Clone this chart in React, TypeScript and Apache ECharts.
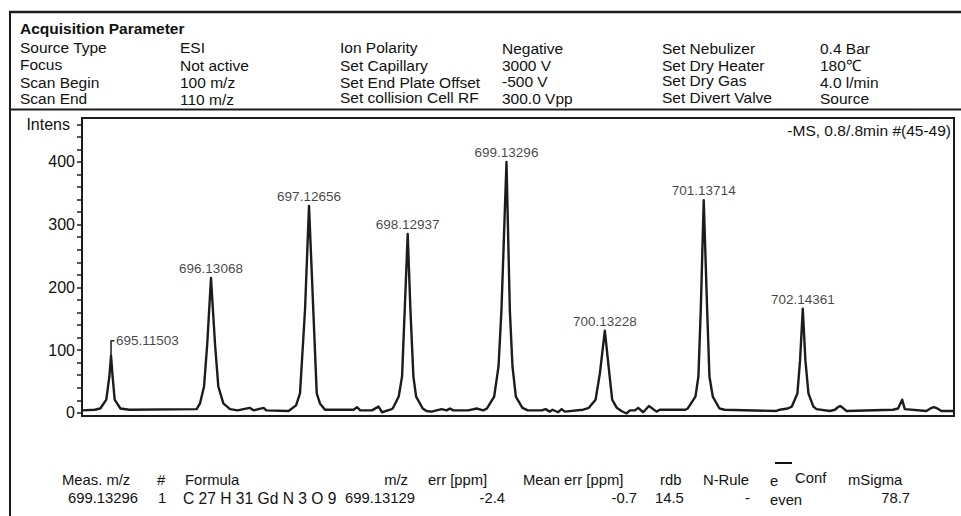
import React, { useEffect, useRef } from "react";
import * as echarts from "echarts";

// ---------- data ----------
const profileMz = [
  694.82, 694.95, 695.006, 695.067, 695.098, 695.11503, 695.131, 695.152, 695.21, 695.3,
  695.985, 696.019, 696.06, 696.093, 696.13068, 696.171, 696.205, 696.256, 696.324, 696.4,
  696.523, 696.563, 696.665, 696.692, 696.919, 696.995, 697.035, 697.086, 697.12656, 697.17,
  697.205, 697.238, 697.289, 697.579, 697.614, 697.647, 697.766, 697.833, 697.868, 697.952,
  697.977, 698.038, 698.072, 698.099, 698.12937, 698.157, 698.187, 698.215, 698.282, 698.32,
  698.372, 698.474, 698.525, 698.558, 698.592, 698.744, 698.83, 698.897, 698.935, 699.008,
  699.052, 699.082, 699.13296, 699.167, 699.194, 699.228, 699.295, 699.35, 699.49, 699.53,
  699.574, 699.6, 699.658, 699.693, 699.727, 699.912, 699.97, 700.038, 700.082, 700.13228,
  700.178, 700.207, 700.254, 700.3, 700.353, 700.387, 700.438, 700.471, 700.522, 700.58,
  700.658, 700.691, 700.95, 700.975, 701.053, 701.083, 701.107, 701.13714, 701.172, 701.195,
  701.229, 701.297, 701.35, 701.877, 701.91, 701.99, 702.032, 702.089, 702.116, 702.14361,
  702.17, 702.201, 702.251, 702.283, 702.418, 702.47, 702.5, 702.523, 702.55, 702.588,
  703.061, 703.112, 703.153, 703.18, 703.4, 703.44, 703.475, 703.51, 703.552, 703.68,
];
const profileIntensity = [
  4, 5, 7, 21, 58, 91, 58, 21, 7, 5,
  6, 15, 42, 111, 215, 111, 42, 15, 6, 4,
  8, 4, 8, 4, 3, 12, 31, 164, 330, 164,
  31, 15, 5, 5, 9, 4, 4, 10, 1, 5,
  7, 26, 58, 164, 285, 164, 58, 26, 7, 3,
  2, 6, 4, 7, 4, 4, 7, 4, 7, 26,
  74, 164, 400, 164, 74, 26, 8, 4, 4, 6,
  2, 5, 1, 6, 2, 5, 8, 21, 63, 131,
  63, 21, 8, 3, -1, 4, 4, 8, 1, 11,
  2, 5, 5, 7, 26, 58, 164, 339, 164, 58,
  26, 7, 5, 3, 5, 7, 10, 31, 84, 166,
  84, 31, 10, 6, 3, 5, 9, 11, 8, 3,
  5, 7, 21, 6, 3, 7, 9, 7, 3, 3,
];
const peakMz = [695.11503, 696.13068, 697.12656, 698.12937, 699.13296, 700.13228, 701.13714, 702.14361];
const peakIntensity = [91, 215, 330, 285, 400, 131, 339, 166];

const yLabelValues = [0, 100, 200, 300, 400];
const yTickValues = [0, 20, 40, 60, 80, 100, 120, 140, 160, 180, 200, 220, 240, 260, 280, 300, 320, 340, 360, 380, 400, 420, 440, 460];
const yNameValue = 460;
const yName = "Intens";
const leaderTop = 115;
const leaderRun = 0.034;

const spectrumTitle = "-MS, 0.8/.8min #(45-49)";
const paramTitle = "Acquisition Parameter";
const paramNames1 = ["Source Type", "Focus", "Scan Begin", "Scan End"];
const paramValues1 = ["ESI", "Not active", "100 m/z", "110 m/z"];
const paramNames2 = ["Ion Polarity", "Set Capillary", "Set End Plate Offset", "Set collision Cell RF"];
const paramValues2 = ["Negative", "3000 V", "-500 V", "300.0 Vpp"];
const paramNames3 = ["Set Nebulizer", "Set Dry Heater", "Set Dry Gas", "Set Divert Valve"];
const paramValues3 = ["0.4 Bar", "180℃", "4.0 l/min", "Source"];

const tableHeaders = ["Meas. m/z", "#", "Formula", "m/z", "err [ppm]", "Mean err [ppm]", "rdb", "N-Rule", "e", "Conf", "mSigma"];
const tableValues = ["699.13296", "1", "C 27 H 31 Gd N 3 O 9", "699.13129", "-2.4", "-0.7", "14.5", "-", "even", "78.7"];

// ---------- layout ----------
const FONT = "'Liberation Sans', Arial, Helvetica, sans-serif";
const INK = "#111111";
const LINE = "#1c1c1c";

const colX = [20, 180, 340, 502, 662, 820];
const colY = [
  [47.5, 64.7, 82.5, 98.5],
  [47.5, 65.4, 82.3, 99.2],
  [47.5, 65, 82, 97.5],
  [48, 65, 81.7, 98.3],
  [48, 65, 80.5, 97.5],
  [48, 65, 82, 98],
];
const headerPos: [number, "left" | "right", number][] = [
  [62, "left", 480], [157, "left", 480], [185, "left", 480], [408, "right", 480],
  [428, "left", 480], [523, "left", 480], [660, "left", 480], [703, "left", 480],
  [770, "left", 481], [795, "left", 478], [848, "left", 480],
];
const valuePos: [number, "left" | "right", number, number][] = [
  [68, "left", 498, 14.8], [158, "left", 498, 14.8], [183, "left", 498, 15.6], [415, "right", 498, 14.8],
  [505, "right", 498, 14.8], [637, "right", 498, 14.8], [655, "left", 498, 14.8], [750, "right", 498, 14.8],
  [770, "left", 500, 14.8], [910, "right", 498, 14.8],
];

function txt(text: string, x: number, y: number, size: number, align: "left" | "right" | "center" = "left", weight: string = "normal", lh?: number) {
  return {
    type: "text",
    x,
    y,
    silent: true,
    style: {
      text,
      fill: INK,
      fontSize: size,
      fontFamily: FONT,
      fontWeight: weight,
      align,
      verticalAlign: "middle",
      lineHeight: lh ?? size,
    },
  };
}

export default function App() {
  const ref = useRef<HTMLDivElement>(null);

  useEffect(() => {
    if (!ref.current) return;
    const chart = echarts.init(ref.current, undefined, { renderer: "svg" });

    const graphics: any[] = [];
    // frame lines
    graphics.push({ type: "line", silent: true, shape: { x1: 9, y1: 12, x2: 961, y2: 12 }, style: { stroke: LINE, lineWidth: 2.5 } });
    graphics.push({ type: "line", silent: true, shape: { x1: 10, y1: 11, x2: 10, y2: 516 }, style: { stroke: LINE, lineWidth: 2 } });
    graphics.push({ type: "line", silent: true, shape: { x1: 10, y1: 109.5, x2: 961, y2: 109.5 }, style: { stroke: LINE, lineWidth: 2 } });

    graphics.push(txt(paramTitle, 20, 28.3, 15.5, "left", "bold"));
    const cols = [paramNames1, paramValues1, paramNames2, paramValues2, paramNames3, paramValues3];
    cols.forEach((col, ci) => {
      col.forEach((t, ri) => graphics.push(txt(t, colX[ci], colY[ci][ri], 15.5, "left", "normal", 13)));
    });

    graphics.push(txt(spectrumTitle, 951, 130, 15.5, "right"));

    tableHeaders.forEach((t, i) => graphics.push(txt(t, headerPos[i][0], headerPos[i][2], 14.8, headerPos[i][1])));
    tableValues.forEach((t, i) => graphics.push(txt(t, valuePos[i][0], valuePos[i][2], valuePos[i][3], valuePos[i][1])));
    graphics.push({ type: "rect", silent: true, shape: { x: 775, y: 462, width: 17, height: 2 }, style: { fill: INK } });

    const option: any = {
      animation: false,
      backgroundColor: "#ffffff",
      textStyle: { fontFamily: FONT },
      grid: { left: 82, top: 118, width: 872, height: 298, show: true, borderColor: LINE, borderWidth: 2, backgroundColor: "transparent" },
      xAxis: { type: "value", min: 694.82, max: 703.68, show: false },
      yAxis: {
        type: "value",
        min: -5,
        max: 470,
        splitLine: { show: false },
        axisLine: { show: true, lineStyle: { color: LINE, width: 2 } },
        axisTick: { show: true, inside: false, length: 5, customValues: yTickValues, lineStyle: { color: LINE, width: 1.5 } },
        axisLabel: {
          show: true,
          customValues: [...yLabelValues, yNameValue],
          margin: 7,
          color: INK,
          fontSize: 16,
          fontFamily: FONT,
          formatter: (v: number) => (v === yNameValue ? "{i|" + yName + "}" : String(v)),
          rich: { i: { fontSize: 16, fontFamily: FONT, color: INK, padding: [0, 5, 0, 0] } },
        },
      },
      series: [
        {
          type: "line",
          data: profileMz.map((m, i) => [m, profileIntensity[i]]),
          symbol: "none",
          silent: true,
          lineStyle: { color: LINE, width: 2.4, join: "round" },
          z: 3,
        },
        {
          type: "line",
          data: [
            [peakMz[0], peakIntensity[0]],
            [peakMz[0], leaderTop],
            [peakMz[0] + leaderRun, leaderTop],
          ],
          symbol: "none",
          silent: true,
          lineStyle: { color: LINE, width: 1.5 },
          z: 3,
        },
        {
          type: "scatter",
          symbolSize: 1,
          silent: true,
          itemStyle: { color: "transparent" },
          data: peakMz.map((m, i) =>
            i === 0
              ? { value: [m + leaderRun, leaderTop], label: { position: "right", distance: 1 } }
              : { value: [m, peakIntensity[i]] }
          ),
          label: {
            show: true,
            position: "top",
            distance: 2,
            color: INK,
            fontSize: 13.5,
            fontFamily: FONT,
            formatter: (p: any) => peakMz[p.dataIndex].toFixed(5),
          },
          z: 4,
        },
      ],
      graphic: graphics,
    };

    chart.setOption(option);
    return () => chart.dispose();
  }, []);

  return (
    <div
      ref={ref}
      style={{ position: "fixed", left: 0, top: 0, width: 961, height: 516, background: "#fff" }}
    />
  );
}
